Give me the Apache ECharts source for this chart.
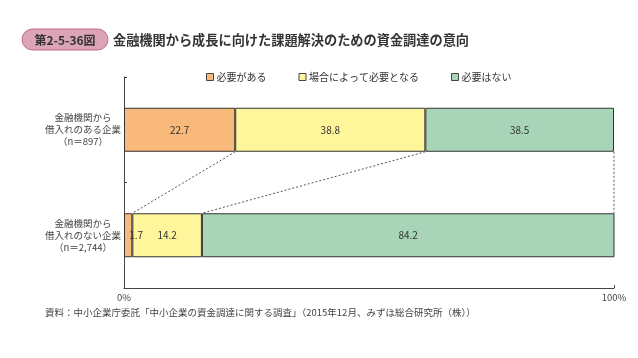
<!DOCTYPE html>
<html>
<head>
<meta charset="utf-8">
<script src="https://cdn.jsdelivr.net/npm/echarts@6/dist/echarts.min.js"></script>
<style>
html,body{margin:0;padding:0;background:#fff;}
#c{width:638px;height:358px;}
</style>
</head>
<body>
<div id="c"></div>
<script>
var categories = ['金融機関から\n借入れのある企業\n（n＝897）', '金融機関から\n借入れのない企業\n（n＝2,744）'];
var seriesNames = ['必要がある', '場合によって必要となる', '必要はない'];
var needYes = [22.7, 1.7];
var needMaybe = [38.8, 14.2];
var needNo = [38.5, 84.2];
var xTicks = [0, 100];

var FONT = '"Noto Sans CJK JP", "Noto Sans", sans-serif';
var colors = ['#f9b97a', '#fff59a', '#a8d5b8'];
var BAR_H = 44;

var chart = echarts.init(document.getElementById('c'));

var cum1 = [needYes[0], needYes[0] + needMaybe[0], needYes[0] + needMaybe[0] + needNo[0]];
var cum2 = [needYes[1], needYes[1] + needMaybe[1], needYes[1] + needMaybe[1] + needNo[1]];
var connectors = [
  [cum1[0], cum2[0]],
  [cum1[1], cum2[1]],
  [xTicks[1], xTicks[1]]
];

function barSeries(name, vals, idx) {
  return {
    name: name,
    type: 'bar',
    stack: 'total',
    barWidth: BAR_H,
    itemStyle: { color: colors[idx], borderColor: '#333', borderWidth: 1 },
    label: {
      show: true,
      position: 'inside',
      color: '#333',
      fontSize: 10,
      fontFamily: FONT,
      formatter: function (p) { return p.value.toFixed(1); }
    },
    data: vals.map(function (v, i) {
      if (idx === 0 && i === 1) {
        return { value: v, label: { offset: [8, 0] } };
      }
      return v;
    }),
    z: 3
  };
}

var option = {
  animation: false,
  textStyle: { fontFamily: FONT },
  graphic: [
    {
      type: 'rect',
      shape: { x: 22, y: 29, width: 86, height: 21, r: 10.5 },
      style: { fill: '#dca4b9', stroke: '#c4678a', lineWidth: 1 }
    },
    {
      type: 'text',
      style: { x: 65, y: 40, text: '第2-5-36図', fill: '#333', font: 'bold 12px ' + FONT, textAlign: 'center', textVerticalAlign: 'middle' }
    },
    {
      type: 'text',
      style: { x: 113, y: 40, text: '金融機関から成長に向けた課題解決のための資金調達の意向', fill: '#333', font: 'bold 13.2px ' + FONT, textVerticalAlign: 'middle' }
    },
    {
      type: 'text',
      style: { x: 45, y: 312, text: '資料：中小企業庁委託「中小企業の資金調達に関する調査」（2015年12月、みずほ総合研究所（株））', fill: '#444', font: '9.5px ' + FONT, textVerticalAlign: 'middle' }
    }
  ],
  legend: {
    data: seriesNames,
    left: 201,
    top: 67,
    itemWidth: 7,
    itemHeight: 7,
    itemGap: 32,
    icon: 'rect',
    itemStyle: { borderColor: '#444', borderWidth: 1 },
    textStyle: { fontSize: 10, color: '#333', fontFamily: FONT, padding: [0, 0, 0, -2] }
  },
  grid: { left: 124, right: 24, top: 77, bottom: 70 },
  xAxis: {
    type: 'value',
    min: xTicks[0],
    max: xTicks[1],
    interval: 100,
    axisLine: { show: true, lineStyle: { color: '#444', width: 1 } },
    axisTick: { show: true, inside: true, length: 3, lineStyle: { color: '#444' } },
    splitLine: { show: false },
    axisLabel: { formatter: '{value}%', fontSize: 9.5, color: '#444', margin: 5, fontFamily: FONT }
  },
  yAxis: {
    type: 'category',
    inverse: true,
    data: categories,
    axisLine: { show: true, lineStyle: { color: '#444', width: 1 } },
    axisTick: { show: true, inside: true, length: 3, lineStyle: { color: '#444' } },
    axisLabel: { align: 'center', margin: 41, fontSize: 9.5, lineHeight: 12, color: '#444', fontFamily: FONT }
  },
  series: [
    barSeries(seriesNames[0], needYes, 0),
    barSeries(seriesNames[1], needMaybe, 1),
    barSeries(seriesNames[2], needNo, 2),
    {
      type: 'custom',
      silent: true,
      z: 2,
      data: connectors,
      renderItem: function (params, api) {
        var p1 = api.coord([api.value(0), 0]);
        var p2 = api.coord([api.value(1), 1]);
        return {
          type: 'line',
          shape: { x1: p1[0], y1: p1[1] + BAR_H / 2, x2: p2[0], y2: p2[1] - BAR_H / 2 },
          style: { stroke: '#555', lineWidth: 1, lineDash: [2, 2] }
        };
      }
    }
  ]
};
chart.setOption(option);
</script>
</body>
</html>
